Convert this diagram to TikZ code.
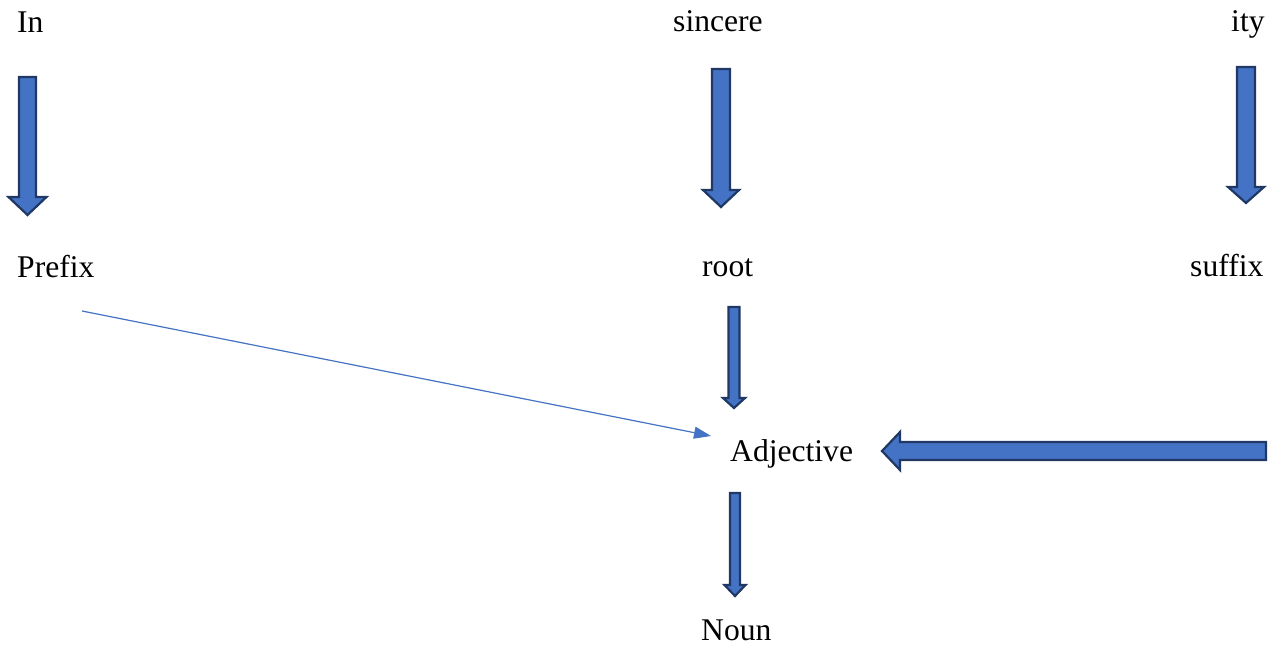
\documentclass[tikz,border=0pt]{standalone}
\usepackage{fontspec}
\setmainfont{Liberation Serif}
\usetikzlibrary{arrows.meta}
\definecolor{wordblue}{HTML}{4472C4}
\definecolor{wordnavy}{HTML}{1F3864}
\begin{document}
\begin{tikzpicture}[x=1pt,y=-1pt,
  word/.style={inner sep=0pt,anchor=base west,font=\fontsize{31.6}{36}\selectfont},
  blockarrow/.style={draw=wordnavy,fill=wordblue,line width=2.2pt,line join=miter},
  thinarrow/.style={draw=wordblue,line width=1.2pt,-{Triangle[length=17pt,width=12pt]}}]
\useasboundingbox (0,0) rectangle (1279,647);
% words
\node[word] (in) at (17,33) {In};
\node[word] (sincere) at (673,32) {sincere};
\node[word] (ity) at (1231,32) {ity};
\node[word] (prefix) at (17,277) {Prefix};
\node[word] (root) at (702,276) {root};
\node[word] (suffix) at (1190,276) {suffix};
\node[word] (adj) at (730,461) {Adjective};
\node[word] (noun) at (701,640) {Noun};
% block arrows
\draw[blockarrow] (19,77) -- (36,77) -- (36,197) -- (46.5,197) -- (27.5,215) -- (8.5,197) -- (19,197) -- cycle;
\draw[blockarrow] (712,69) -- (730,69) -- (730,190) -- (739,190) -- (721,207) -- (703,190) -- (712,190) -- cycle;
\draw[blockarrow] (1237,67) -- (1255,67) -- (1255,187) -- (1264,187) -- (1246,203) -- (1228,187) -- (1237,187) -- cycle;
\draw[blockarrow] (728.5,307) -- (739.5,307) -- (739.5,398) -- (745,398) -- (734,408) -- (723,398) -- (728.5,398) -- cycle;
\draw[blockarrow] (730,493) -- (740,493) -- (740,585) -- (745.5,585) -- (735,596) -- (724.5,585) -- (730,585) -- cycle;
\draw[blockarrow] (1266,442) -- (1266,460) -- (900,460) -- (900,470) -- (882,451) -- (900,432) -- (900,442) -- cycle;
% prefix to adjective
\coordinate (pstart) at (82,311);
\coordinate (ptip) at (711,436);
\draw[thinarrow] (pstart) -- (ptip);
\end{tikzpicture}
\end{document}
